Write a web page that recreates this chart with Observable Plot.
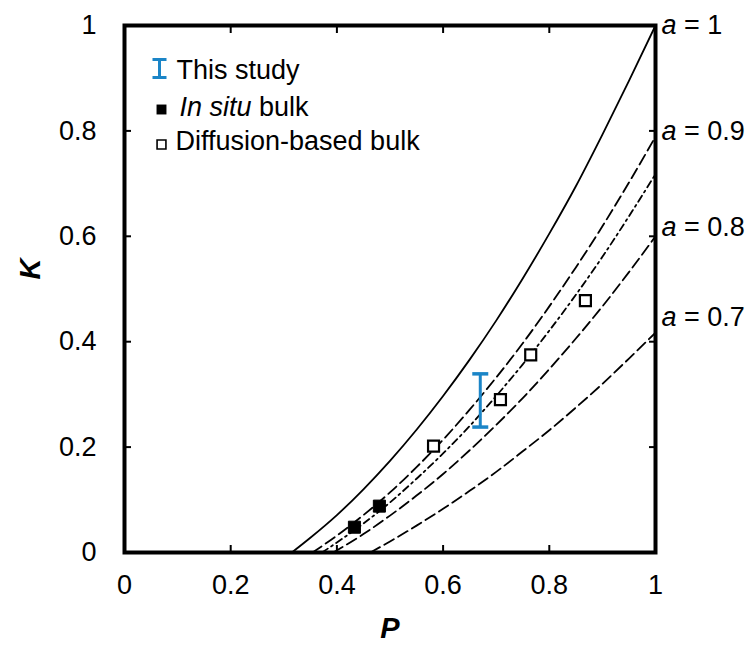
<!DOCTYPE html>
<html><head><meta charset="utf-8">
<script src="https://cdn.jsdelivr.net/npm/d3@7"></script>
<script src="https://cdn.jsdelivr.net/npm/@observablehq/plot@0.6"></script>
<style>html,body{margin:0;padding:0;background:#fff;} #chart{width:747px;height:645px;}</style>
</head><body><div id="chart"></div>
<script>
// ---- data ----
const xTicks = [0, 0.2, 0.4, 0.6, 0.8, 1];
const yTicks = [0, 0.2, 0.4, 0.6, 0.8, 1];
const innerTicks = [0.2, 0.4, 0.6, 0.8];

// a = 1 (solid)
const a10P = [0.315, 0.35, 0.40, 0.45, 0.50, 0.55, 0.60, 0.65, 0.70, 0.75, 0.80, 0.85, 0.90, 0.95, 1.0];
const a10K = [0, 0.028, 0.071, 0.12, 0.174, 0.233, 0.297, 0.366, 0.44, 0.52, 0.605, 0.695, 0.793, 0.895, 1.0];
// a = 0.9 (dashed)
const a09P = [0.354, 0.40, 0.45, 0.50, 0.55, 0.60, 0.65, 0.70, 0.75, 0.80, 0.85, 0.90, 0.95, 1.0];
const a09K = [0, 0.032, 0.071, 0.114, 0.162, 0.214, 0.271, 0.332, 0.397, 0.467, 0.541, 0.619, 0.702, 0.789];
// dash-dot curve
const ddP = [0.372, 0.40, 0.45, 0.50, 0.55, 0.60, 0.65, 0.70, 0.75, 0.80, 0.85, 0.90, 0.95, 1.0];
const ddK = [0, 0.019, 0.055, 0.095, 0.14, 0.188, 0.24, 0.297, 0.357, 0.421, 0.489, 0.561, 0.638, 0.718];
// a = 0.8 (dashed)
const a08P = [0.393, 0.45, 0.50, 0.55, 0.60, 0.65, 0.70, 0.75, 0.80, 0.85, 0.90, 0.95, 1.0];
const a08K = [0, 0.035, 0.07, 0.108, 0.149, 0.194, 0.242, 0.293, 0.348, 0.406, 0.467, 0.532, 0.60];
// a = 0.7 (dashed)
const a07P = [0.463, 0.50, 0.55, 0.60, 0.65, 0.70, 0.75, 0.80, 0.85, 0.90, 0.95, 1.0];
const a07K = [0, 0.021, 0.051, 0.083, 0.117, 0.153, 0.192, 0.232, 0.275, 0.32, 0.368, 0.417];

const inSituP = [0.433, 0.480];
const inSituK = [0.048, 0.088];
const diffP = [0.582, 0.708, 0.765, 0.868];
const diffK = [0.202, 0.290, 0.375, 0.478];
const studyP = [0.670];
const studyLow = [0.238];
const studyHigh = [0.339];

const aLabels = ["a = 1", "a = 0.9", "a = 0.8", "a = 0.7"];
const aLabelK = [1.0, 0.80, 0.617, 0.447];
const legendLabels = ["This study", "In situ bulk", "Diffusion-based bulk"];
const xTitle = "P";
const yTitle = "K";

// ---- chart ----
const blue = "#1b85c7";
const font = "'Liberation Sans', Arial, sans-serif";
const FS = 27;
const rows = (P, K) => P.map((p, i) => ({P: p, K: K[i]}));
const studyRows = studyP.map((p, i) => ({P: p, low: studyLow[i], high: studyHigh[i]}));
const xMax = xTicks[xTicks.length - 1];
const labelRows = aLabels.map((t, i) => ({t, K: aLabelK[i]}));

const capSymbol = {draw(ctx) { ctx.moveTo(-8, 0); ctx.lineTo(8, 0); }};
const ibeamSymbol = {draw(ctx) {
  ctx.moveTo(-7, -9); ctx.lineTo(7, -9);
  ctx.moveTo(0, -9); ctx.lineTo(0, 9);
  ctx.moveTo(-7, 9); ctx.lineTo(7, 9);
}};

const curve = (P, K, dash) => Plot.line(rows(P, K), {
  x: "P", y: "K", stroke: "black", strokeWidth: 1.8, strokeDasharray: dash, curve: "monotone-x"
});

const chart = Plot.plot({
  width: 747, height: 645,
  marginLeft: 124, marginRight: 92, marginTop: 25, marginBottom: 93,
  x: {domain: [0, 1]},
  y: {domain: [0, 1]},
  style: {fontFamily: font, fontSize: FS + "px", color: "black", background: "white", overflow: "visible"},
  marks: [
    Plot.axisX({ticks: xTicks, tickSize: -7, tickPadding: 29, tickFormat: d => String(d), strokeWidth: 2, label: null, fontSize: FS}),
    Plot.axisX({anchor: "top", ticks: innerTicks, tickSize: -7, tickFormat: () => "", strokeWidth: 2, label: null}),
    Plot.axisY({ticks: yTicks, tickSize: -7, tickPadding: 35, tickFormat: d => String(d), strokeWidth: 2, label: null, fontSize: FS}),
    Plot.axisY({anchor: "right", ticks: innerTicks, tickSize: -7, tickFormat: () => "", strokeWidth: 2, label: null}),
    curve(a07P, a07K, "11,5"),
    curve(a08P, a08K, "11,5"),
    curve(ddP, ddK, "7,4,2,4"),
    curve(a09P, a09K, "11,5"),
    curve(a10P, a10K, null),
    Plot.ruleX(studyRows, {x: "P", y1: "low", y2: "high", stroke: blue, strokeWidth: 3}),
    Plot.dot(studyRows, {x: "P", y: "low", symbol: capSymbol, stroke: blue, strokeWidth: 3.5}),
    Plot.dot(studyRows, {x: "P", y: "high", symbol: capSymbol, stroke: blue, strokeWidth: 3.5}),
    Plot.dot(rows(inSituP, inSituK), {x: "P", y: "K", symbol: "square", r: 6.8, fill: "black", stroke: "black", strokeWidth: 1}),
    Plot.dot(rows(diffP, diffK), {x: "P", y: "K", symbol: "square", r: 6.2, fill: "white", stroke: "black", strokeWidth: 2.2}),
    Plot.frame({stroke: "black", strokeWidth: 4}),
    Plot.text(labelRows, {x: () => xMax, y: "K", text: "t", dx: 6, textAnchor: "start", fontSize: FS}),
    // legend
    Plot.dot([legendLabels[0]], {x: null, y: null, frameAnchor: "top-left", dx: 35, dy: 43, symbol: ibeamSymbol, stroke: blue, strokeWidth: 3}),
    Plot.dot([legendLabels[1]], {x: null, y: null, frameAnchor: "top-left", dx: 37, dy: 84, symbol: "square", r: 5.6, fill: "black"}),
    Plot.dot([legendLabels[2]], {x: null, y: null, frameAnchor: "top-left", dx: 37, dy: 119, symbol: "square", r: 5, fill: "white", stroke: "black", strokeWidth: 1.6}),
    Plot.text([legendLabels[0]], {x: null, y: null, frameAnchor: "top-left", dx: 52, dy: 45, lineAnchor: "middle", text: d => d, textAnchor: "start", fontSize: FS}),
    Plot.text([legendLabels[1]], {x: null, y: null, frameAnchor: "top-left", dx: 55, dy: 82, lineAnchor: "middle", text: d => d, textAnchor: "start", fontSize: FS}),
    Plot.text([legendLabels[2]], {x: null, y: null, frameAnchor: "top-left", dx: 51, dy: 116, lineAnchor: "middle", text: d => d, textAnchor: "start", fontSize: FS}),
    // axis titles
    Plot.text([xTitle], {x: null, y: null, frameAnchor: "bottom", dy: 76, lineAnchor: "middle", textAnchor: "middle", text: d => d, fontSize: 29, fontWeight: "bold", fontStyle: "italic"}),
    Plot.text([yTitle], {x: null, y: null, frameAnchor: "left", dx: -94, dy: -20, rotate: -90, lineAnchor: "middle", textAnchor: "middle", text: d => d, fontSize: 29, fontWeight: "bold", fontStyle: "italic"})
  ]
});
document.getElementById("chart").appendChild(chart);

// italic parts of mixed-style labels
const NS = "http://www.w3.org/2000/svg";
chart.querySelectorAll("text").forEach(el => {
  const s = el.textContent;
  let italic = null, rest = null;
  if (s.startsWith("a = ")) { italic = "a"; rest = s.slice(1); }
  else if (s === "In situ bulk") { italic = "In situ"; rest = " bulk"; }
  if (italic !== null) {
    el.textContent = "";
    const t1 = document.createElementNS(NS, "tspan");
    t1.setAttribute("font-style", "italic");
    t1.textContent = italic;
    const t2 = document.createElementNS(NS, "tspan");
    t2.textContent = rest;
    el.appendChild(t1); el.appendChild(t2);
  }
});
</script>
</body></html>
